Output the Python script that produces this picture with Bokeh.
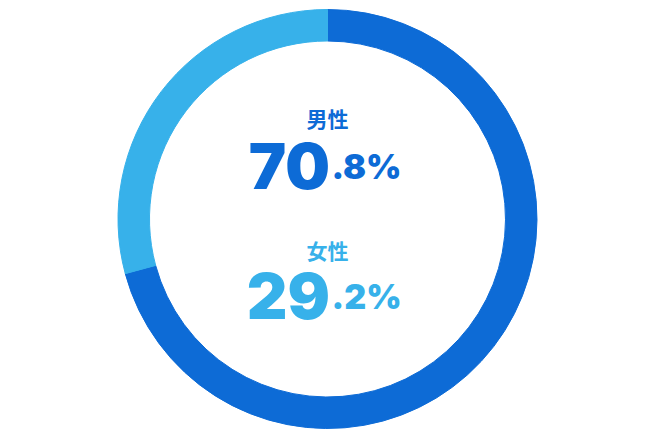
import math
from bokeh.plotting import figure
from bokeh.models import ColumnDataSource
from bokeh.core.properties import value
from bokeh.embed import file_html
from bokeh.resources import INLINE

labels = ["男性", "女性"]
shares = [70.8, 29.2]
colors = ["#0d6bd6", "#37b1ea"]

W, H = 654, 436
p = figure(width=W, height=H, x_range=(0, W), y_range=(0, H),
           output_backend="svg", toolbar_location=None, min_border=0)
p.axis.visible = False
p.grid.visible = False
p.outline_line_color = None
p.background_fill_color = "white"
p.border_fill_color = "white"

def sy(v):
    return H - v

cx, cy = 327, sy(218.5)
r_out, r_in = 209.5, 178

starts, ends = [], []
acc = 0.0
total = sum(shares)
for s in shares:
    a0 = math.pi / 2 - 2 * math.pi * acc / total
    acc += s
    a1 = math.pi / 2 - 2 * math.pi * acc / total
    starts.append(a0)
    ends.append(a1)

src = ColumnDataSource(dict(x=[cx] * len(shares), y=[cy] * len(shares),
                            start=starts, end=ends, color=colors))
p.annular_wedge(x="x", y="y", inner_radius=r_in, outer_radius=r_out,
                start_angle="start", end_angle="end", direction="clock",
                color="color", source=src)

label_y = [sy(117.5), sy(249)]
base_y = [sy(165.5), sy(295.5)]
split_x = 329.5
for lab, val, col, ly, by in zip(labels, shares, colors, label_y, base_y):
    ip = str(int(val))
    fp = "." + f"{val:.1f}".split(".")[1] + "%"
    p.text(x=[327], y=[ly], text=[lab], text_color=col,
           text_font=value("Noto Sans CJK JP"), text_font_style="bold",
           text_font_size="21px", text_align="center", text_baseline="middle")
    p.text(x=[split_x], y=[by], text=[ip], text_color=col,
           text_font=value("'Inter Black', Inter"), text_font_style="bold",
           text_font_size="63px", text_align="right", text_baseline="alphabetic")
    p.text(x=[split_x + 1.5], y=[by], text=[fp], text_color=col,
           text_font=value("'Inter Black', Inter"), text_font_style="bold",
           text_font_size="34px", text_align="left", text_baseline="alphabetic")

open("out.html", "w").write(file_html(p, INLINE))
